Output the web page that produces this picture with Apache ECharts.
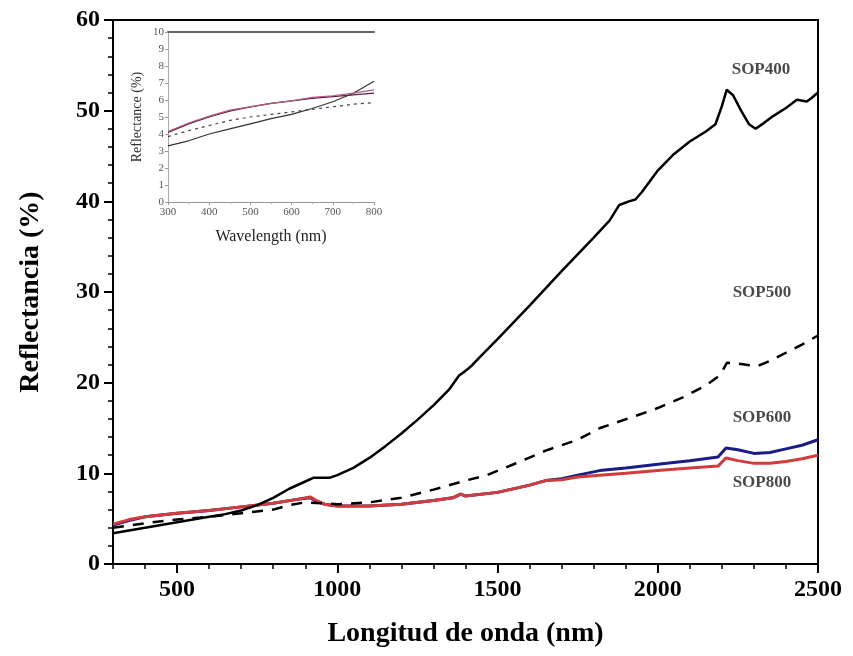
<!DOCTYPE html>
<html><head><meta charset="utf-8">
<script src="https://cdn.jsdelivr.net/npm/echarts@6/dist/echarts.min.js"></script>
<style>html,body{margin:0;padding:0;background:#fff}#c{width:853px;height:656px}</style>
</head><body><div id="c"></div>
<script>
// ---- Main chart data (wavelength nm, reflectance %) ----
const sop400 = [[300,3.4],[350,3.7],[400,4.0],[450,4.3],[500,4.6],[550,4.9],[600,5.2],[650,5.5],[700,5.9],[750,6.5],[800,7.3],[850,8.3],[900,9.1],[925,9.5],[975,9.5],[1000,9.8],[1050,10.6],[1100,11.7],[1150,13.0],[1200,14.4],[1250,15.9],[1300,17.5],[1350,19.3],[1380,20.8],[1400,21.3],[1420,21.9],[1450,23.0],[1500,24.8],[1600,28.5],[1700,32.3],[1800,36.0],[1850,37.9],[1880,39.6],[1910,40.0],[1930,40.2],[1950,41.0],[2000,43.4],[2050,45.2],[2100,46.6],[2150,47.7],[2180,48.5],[2200,50.5],[2215,52.3],[2235,51.7],[2260,50.0],[2285,48.5],[2305,48.0],[2330,48.6],[2360,49.4],[2400,50.3],[2434,51.2],[2465,51.0],[2480,51.4],[2500,52.0]];
const sop500 = [[300,4.0],[400,4.5],[500,4.9],[600,5.2],[700,5.6],[800,6.0],[850,6.5],[900,6.8],[950,6.7],[1000,6.6],[1100,6.8],[1200,7.3],[1300,8.2],[1400,9.2],[1467,9.8],[1550,11.0],[1650,12.5],[1750,13.7],[1820,15.0],[1920,16.2],[2000,17.2],[2080,18.4],[2150,19.7],[2194,20.8],[2216,22.2],[2250,22.1],[2309,21.8],[2350,22.4],[2400,23.3],[2450,24.2],[2500,25.2]];
const sop600 = [[300,4.3],[350,4.8],[400,5.2],[500,5.6],[600,5.9],[700,6.3],[800,6.7],[870,7.1],[915,7.3],[935,6.9],[960,6.6],[1000,6.4],[1100,6.4],[1200,6.6],[1300,7.0],[1360,7.3],[1385,7.7],[1400,7.5],[1500,7.9],[1600,8.7],[1650,9.2],[1700,9.4],[1750,9.8],[1819,10.3],[1900,10.6],[2028,11.1],[2100,11.4],[2188,11.8],[2213,12.8],[2250,12.6],[2300,12.2],[2350,12.3],[2400,12.7],[2450,13.1],[2500,13.7]];
const sop800 = [[300,4.4],[350,4.9],[400,5.2],[500,5.6],[600,5.9],[700,6.3],[800,6.7],[870,7.1],[915,7.4],[935,7.0],[960,6.6],[1000,6.4],[1100,6.4],[1200,6.6],[1300,7.0],[1360,7.3],[1385,7.7],[1400,7.5],[1500,7.9],[1600,8.7],[1650,9.2],[1700,9.3],[1750,9.6],[1819,9.8],[1900,10.0],[2000,10.3],[2100,10.6],[2188,10.8],[2213,11.7],[2250,11.4],[2300,11.1],[2350,11.1],[2400,11.3],[2450,11.6],[2500,12.0]];
const seriesLabels = [[2322,54.5,'SOP400'],[2325,29.9,'SOP500'],[2325,16.2,'SOP600'],[2325,9.0,'SOP800']];
const xMajorTicks = [500,1000,1500,2000,2500];
const xMinorTicks = [300,400,500,600,700,800,900,1000,1100,1200,1300,1400,1500,1600,1700,1800,1900,2000,2100,2200,2300,2400,2500];

// ---- Inset data (300-800 nm) ----
const in400 = [[300,3.3],[350,3.6],[400,4.0],[450,4.3],[500,4.6],[550,4.9],[600,5.15],[650,5.5],[700,5.9],[750,6.4],[800,7.1]];
const in500 = [[300,3.85],[350,4.2],[400,4.5],[450,4.8],[500,5.0],[550,5.15],[600,5.3],[650,5.45],[700,5.6],[750,5.75],[800,5.85]];
const in600 = [[300,4.1],[350,4.6],[400,5.0],[450,5.35],[500,5.6],[550,5.8],[600,5.95],[650,6.1],[700,6.2],[750,6.3],[800,6.4]];
const in800 = [[300,4.15],[350,4.65],[400,5.05],[450,5.4],[500,5.6],[550,5.8],[600,5.95],[650,6.15],[700,6.25],[750,6.4],[800,6.6]];

const SERIF = '"Liberation Serif","DejaVu Serif",serif';
const chart = echarts.init(document.getElementById('c'), null, {renderer:'canvas'});
const mainGrid = {left:113, right:35, top:20, bottom:92, show:true, borderColor:'#000', borderWidth:2, backgroundColor:'transparent'};
const insetGrid = {left:168, top:32, width:206, height:170};
const lineBase = {type:'line', showSymbol:false, symbol:'none', smooth:false, animation:false};
const plain = v => String(v);

chart.setOption({
  animation:false,
  grid:[mainGrid, insetGrid],
  xAxis:[
    {gridIndex:0, type:'value', min:300, max:2500, position:'bottom',
     name:'Longitud de onda (nm)', nameLocation:'middle', nameGap:56,
     nameTextStyle:{fontFamily:SERIF, fontWeight:'bold', fontSize:28, color:'#000'},
     axisLine:{lineStyle:{color:'#000', width:2}},
     axisTick:{show:true, inside:false, length:9, customValues:xMajorTicks, lineStyle:{color:'#000', width:2}},
     axisLabel:{customValues:xMajorTicks, formatter:plain, fontFamily:SERIF, fontWeight:'bold', fontSize:24, color:'#000', margin:14},
     splitLine:{show:false}},
    {gridIndex:0, type:'value', min:300, max:2500, position:'bottom',
     axisLine:{show:false},
     axisTick:{show:true, length:5, customValues:xMinorTicks, lineStyle:{color:'#000', width:1.5}},
     axisLabel:{show:false}, splitLine:{show:false}},
    {gridIndex:1, type:'value', min:300, max:800, interval:100, position:'bottom',
     name:'Wavelength (nm)', nameLocation:'middle', nameGap:27,
     nameTextStyle:{fontFamily:SERIF, fontSize:16, color:'#222'},
     axisLine:{lineStyle:{color:'#999', width:1}},
     axisTick:{show:true, length:3, lineStyle:{color:'#999'}},
     minorTick:{show:true, splitNumber:2, length:2, lineStyle:{color:'#aaa'}},
     axisLabel:{formatter:plain, fontFamily:SERIF, fontSize:11, color:'#555', margin:5},
     splitLine:{show:false}},
    {gridIndex:1, type:'value', min:300, max:800, position:'top',
     axisLine:{lineStyle:{color:'#666', width:2}}, axisTick:{show:false}, axisLabel:{show:false}, splitLine:{show:false}}
  ],
  yAxis:[
    {gridIndex:0, type:'value', min:0, max:60, interval:10,
     name:'Reflectancia (%)', nameLocation:'middle', nameGap:68,
     nameTextStyle:{fontFamily:SERIF, fontWeight:'bold', fontSize:28, color:'#000'},
     axisLine:{lineStyle:{color:'#000', width:2}},
     axisTick:{show:true, length:9, lineStyle:{color:'#000', width:2}},
     minorTick:{show:true, splitNumber:5, length:5, lineStyle:{color:'#000', width:1.5}},
     axisLabel:{fontFamily:SERIF, fontWeight:'bold', fontSize:24, color:'#000', margin:13},
     splitLine:{show:false}},
    {gridIndex:1, type:'value', min:0, max:10, interval:1,
     name:'Reflectance (%)', nameLocation:'middle', nameGap:24,
     nameTextStyle:{fontFamily:SERIF, fontSize:14, color:'#333'},
     axisLine:{lineStyle:{color:'#aaa', width:1}},
     axisTick:{show:true, length:3, lineStyle:{color:'#999'}},
     axisLabel:{fontFamily:SERIF, fontSize:11, color:'#555', margin:4},
     splitLine:{show:false}}
  ],
  series:[
    Object.assign({}, lineBase, {name:'SOP400', xAxisIndex:0, yAxisIndex:0, data:sop400, lineStyle:{color:'#000', width:2.5}, z:5}),
    Object.assign({}, lineBase, {name:'SOP500', xAxisIndex:0, yAxisIndex:0, data:sop500, lineStyle:{color:'#000', width:2.5, type:[11,9]}, z:4}),
    Object.assign({}, lineBase, {name:'SOP600', xAxisIndex:0, yAxisIndex:0, data:sop600, lineStyle:{color:'#1c1c86', width:3}, z:3}),
    Object.assign({}, lineBase, {name:'SOP800', xAxisIndex:0, yAxisIndex:0, data:sop800, lineStyle:{color:'#d23c3c', width:3}, z:3}),
    {type:'scatter', xAxisIndex:0, yAxisIndex:0, symbolSize:0, silent:true,
     data:seriesLabels.map(d => ({value:[d[0], d[1]], name:d[2]})),
     label:{show:true, position:'inside', formatter:p => p.name, fontFamily:SERIF, fontWeight:'bold', fontSize:17, color:'#1a1a1a'}},
    Object.assign({}, lineBase, {xAxisIndex:2, yAxisIndex:1, data:in400, lineStyle:{color:'#333', width:1.2}}),
    Object.assign({}, lineBase, {xAxisIndex:2, yAxisIndex:1, data:in500, lineStyle:{color:'#444', width:1.2, type:[3,4]}}),
    Object.assign({}, lineBase, {xAxisIndex:2, yAxisIndex:1, data:in600, lineStyle:{color:'#5a1f4e', width:1.3}}),
    Object.assign({}, lineBase, {xAxisIndex:2, yAxisIndex:1, data:in800, lineStyle:{color:'#b05a7a', width:1.2}})
  ]
});
</script>
</body></html>
